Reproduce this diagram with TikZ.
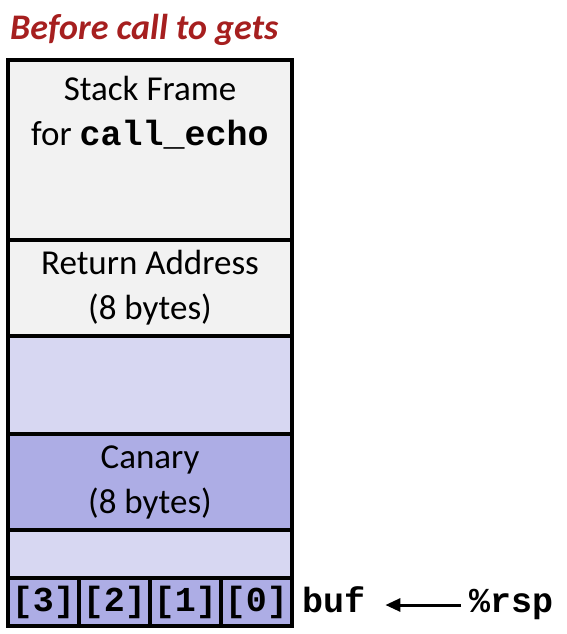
\documentclass[tikz,border=0pt]{standalone}
\usepackage{fontspec}
\setmainfont{Carlito}
\setmonofont{Liberation Mono}
\usetikzlibrary{positioning,arrows.meta}
\definecolor{framegray}{RGB}{242,242,242}
\definecolor{padlilac}{RGB}{215,215,242}
\definecolor{canarylilac}{RGB}{173,173,229}
\definecolor{titlered}{RGB}{166,31,31}
\tikzset{
    % Define stack slot styles
    slotbox/.style={
        rectangle, draw=black, line width=3.5pt,
        minimum width=284pt, inner sep=0pt, outer sep=0pt,
        align=center, font=\fontsize{35}{45}\selectfont
    },
    bytecell/.style={
        slotbox, fill=canarylilac, minimum width=71pt, minimum height=48pt,
        font=\fontsize{35}{40}\selectfont\ttfamily\bfseries
    },
    monolabel/.style={
        inner sep=0pt, font=\fontsize{35}{40}\selectfont\ttfamily\bfseries
    },
    arrow/.style={
        -{Triangle[length=15pt,width=13pt]}, line width=3pt, color=black
    }
}
\begin{document}
\begin{tikzpicture}[x=1pt,y=-1pt]
\useasboundingbox (0,0) rectangle (566,634);

\node[anchor=base west, inner sep=0pt, text=titlered,
      font=\fontsize{36}{40}\selectfont\bfseries\itshape] (title) at (10,40) {Before call to gets};

% stack slots, top to bottom
\node[slotbox, fill=framegray, minimum height=180pt, anchor=north west] (frame) at (8,60) {};
\node[slotbox, fill=framegray, minimum height=96pt, below=0pt of frame] (ret) {Return Address\\(8 bytes)};
\node[slotbox, fill=padlilac, minimum height=98pt, below=0pt of ret] (padtop) {};
\node[slotbox, fill=canarylilac, minimum height=96pt, below=0pt of padtop] (canary) {Canary\\(8 bytes)};
\node[slotbox, fill=padlilac, minimum height=48pt, below=0pt of canary] (padlow) {};

\node[anchor=north, inner sep=0pt, align=center, font=\fontsize{35}{45}\selectfont]
    (frametxt) at ([yshift=-16pt]frame.north) {Stack Frame\\for \texttt{\bfseries call\_echo}};

% buf bytes
\foreach \i [count=\k from 0] in {3,2,1,0}
    \node[bytecell, anchor=north west] (b\i) at ({8+71*\k},578) {[\i]};

\node[monolabel, anchor=base west] (buf) at (302,612) {buf};
\node[monolabel, anchor=base west] (rsp) at (469,612) {\%rsp};
\draw[arrow] ([xshift=-8pt,yshift=7pt]rsp.base west) -- ([xshift=20pt,yshift=7pt]buf.base east);

\end{tikzpicture}
\end{document}
